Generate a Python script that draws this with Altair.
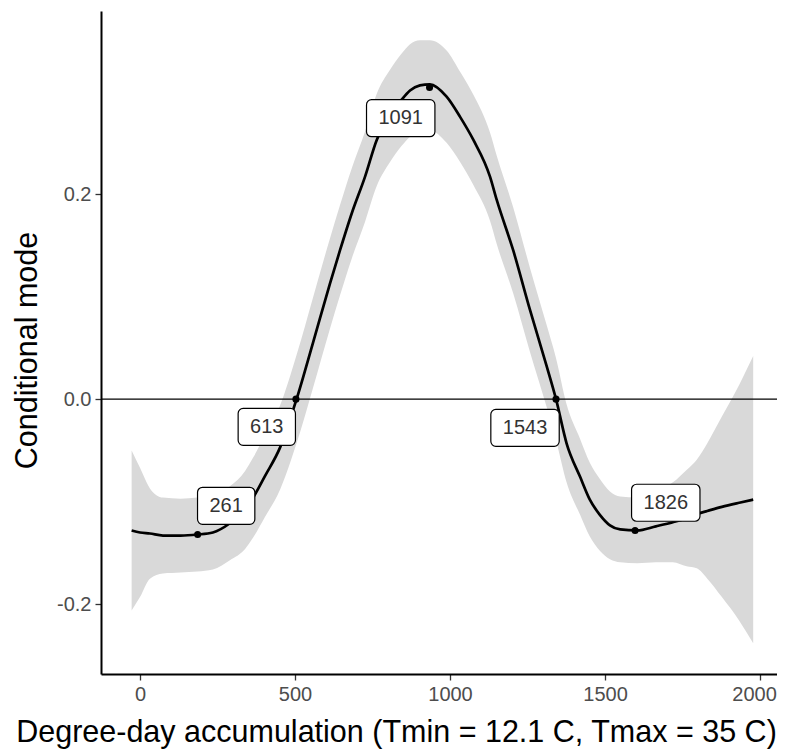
import altair as alt
import pandas as pd

# ---- data (x in axis units) ----
deg = [-27, 0, 32, 74, 131, 185, 235, 290, 339, 365, 403, 452, 505, 558, 613,
       645, 684, 726, 764, 806, 844, 871, 903, 935, 989, 1033, 1075, 1129,
       1151, 1204, 1258, 1312, 1342, 1376, 1420, 1451, 1484, 1516, 1549, 1604,
       1664, 1719, 1763, 1796, 1830, 1877, 1933, 1978]
mode = [-0.128, -0.130, -0.131, -0.133, -0.133, -0.132, -0.130, -0.121, -0.108,
        -0.096, -0.075, -0.047, 0.000, 0.055, 0.113, 0.145, 0.182, 0.217, 0.253,
        0.276, 0.292, 0.301, 0.306, 0.307, 0.295, 0.275, 0.253, 0.217, 0.194,
        0.145, 0.087, 0.032, 0.000, -0.043, -0.076, -0.098, -0.113, -0.123,
        -0.127, -0.128, -0.124, -0.120, -0.116, -0.112, -0.109, -0.105, -0.101,
        -0.098]
lower = [-0.206, -0.193, -0.175, -0.170, -0.169, -0.168, -0.166, -0.157, -0.146,
         -0.135, -0.115, -0.088, -0.043, 0.011, 0.069, 0.101, 0.138, 0.173, 0.208,
         0.231, 0.247, 0.256, 0.261, 0.262, 0.250, 0.231, 0.209, 0.174, 0.151,
         0.103, 0.046, -0.008, -0.040, -0.081, -0.113, -0.134, -0.148, -0.156,
         -0.159, -0.160, -0.159, -0.159, -0.163, -0.165, -0.175, -0.193, -0.216,
         -0.238]
upper = [-0.050, -0.067, -0.087, -0.096, -0.097, -0.096, -0.094, -0.085, -0.070,
         -0.057, -0.035, -0.006, 0.043, 0.099, 0.157, 0.189, 0.226, 0.261, 0.298,
         0.321, 0.337, 0.346, 0.350, 0.350, 0.340, 0.319, 0.297, 0.260, 0.237,
         0.187, 0.128, 0.072, 0.040, -0.005, -0.039, -0.062, -0.078, -0.090,
         -0.095, -0.096, -0.089, -0.081, -0.069, -0.059, -0.043, -0.017, 0.014,
         0.042]

labels = ["261", "613", "1091", "1543", "1826"]
peak_x = [186, 503, 934, 1342, 1597]
peak_y = [-0.132, 0.0, 0.304, 0.0, -0.128]
label_x = [278, 409, 841, 1242, 1696]
label_y = [-0.104, -0.027, 0.274, -0.028, -0.101]

x_ticks = [0, 500, 1000, 1500, 2000]
y_ticks = [-0.2, 0.0, 0.2]

X_TITLE = "Degree-day accumulation (Tmin = 12.1 C, Tmax = 35 C)"
Y_TITLE = "Conditional mode"

# ---- layout ----
X_DOMAIN = [-125.8, 2054.8]
Y_DOMAIN = [-0.268, 0.3785]
W, H = 676, 663
FONT = "Liberation Sans"

px_x = W / (X_DOMAIN[1] - X_DOMAIN[0])
px_y = H / (Y_DOMAIN[1] - Y_DOMAIN[0])

curve = pd.DataFrame({"deg": deg, "mode": mode, "lower": lower, "upper": upper})
pts = pd.DataFrame({"deg": peak_x, "mode": peak_y})
lab = pd.DataFrame({"lx": label_x, "ly": label_y, "text": labels})
half_w = (lab["text"].str.len() * 11.1 + 24) / 2 / px_x
half_h = 18.5 / px_y
lab["x1"] = lab["lx"] - half_w
lab["x2"] = lab["lx"] + half_w
lab["y1"] = lab["ly"] - half_h
lab["y2"] = lab["ly"] + half_h

x_scale = alt.Scale(domain=X_DOMAIN, nice=False, zero=False)
y_scale = alt.Scale(domain=Y_DOMAIN, nice=False, zero=False)

x_axis = alt.Axis(
    values=x_ticks, title=X_TITLE, titleX=295, titlePadding=13, format="d",
    labelOffset=alt.condition("datum.value == 2000", alt.value(-6), alt.value(0)),
)
y_axis = alt.Axis(values=y_ticks, title=Y_TITLE, titlePadding=14, titleY=339,
                  labelExpr="replace(format(datum.value, '.1f'), '\u2212', '-')")


def X(field):
    return alt.X(field, type="quantitative", scale=x_scale, axis=x_axis)


def Y(field):
    return alt.Y(field, type="quantitative", scale=y_scale, axis=y_axis)


band = alt.Chart(curve).mark_area(
    color="#d9d9d9", opacity=1, interpolate="monotone"
).encode(x=X("deg"), y=Y("lower"), y2="upper")
zero = alt.Chart(pd.DataFrame({"z": [0.0]})).mark_rule(
    color="black", strokeWidth=1.3
).encode(y=Y("z"))
line = alt.Chart(curve).mark_line(
    color="black", strokeWidth=2.7, interpolate="monotone"
).encode(x=X("deg"), y=Y("mode"))
dots = alt.Chart(pts).mark_circle(size=50, color="black", opacity=1).encode(
    x=X("deg"), y=Y("mode")
)
boxes = alt.Chart(lab).mark_rect(
    fill="white", stroke="black", strokeWidth=1.2, cornerRadius=5
).encode(x=X("x1"), x2="x2", y=Y("y1"), y2="y2")
texts = alt.Chart(lab).mark_text(
    font=FONT, fontSize=20, color="#333333", align="center", baseline="middle"
).encode(x=X("lx"), y=Y("ly"), text="text:N")

chart = (
    alt.layer(band, zero, line, dots, boxes, texts)
    .properties(
        width=W,
        height=H,
        padding={"left": 93, "top": 3, "right": 0, "bottom": 80},
        autosize=alt.AutoSizeParams(type="none"),
        background="white",
    )
    .configure_view(stroke=None)
    .configure_axis(
        grid=False,
        domainColor="black",
        domainWidth=2,
        tickColor="#333333",
        tickWidth=1.3,
        tickSize=6,
        labelFont=FONT,
        labelFontSize=20,
        labelColor="#4d4d4d",
        labelPadding=4,
        titleFont=FONT,
        titleFontSize=30.5,
        titleFontWeight="normal",
        titleColor="black",
    )
)

chart.save("out.html", embed_options={"renderer": "svg", "actions": False})
